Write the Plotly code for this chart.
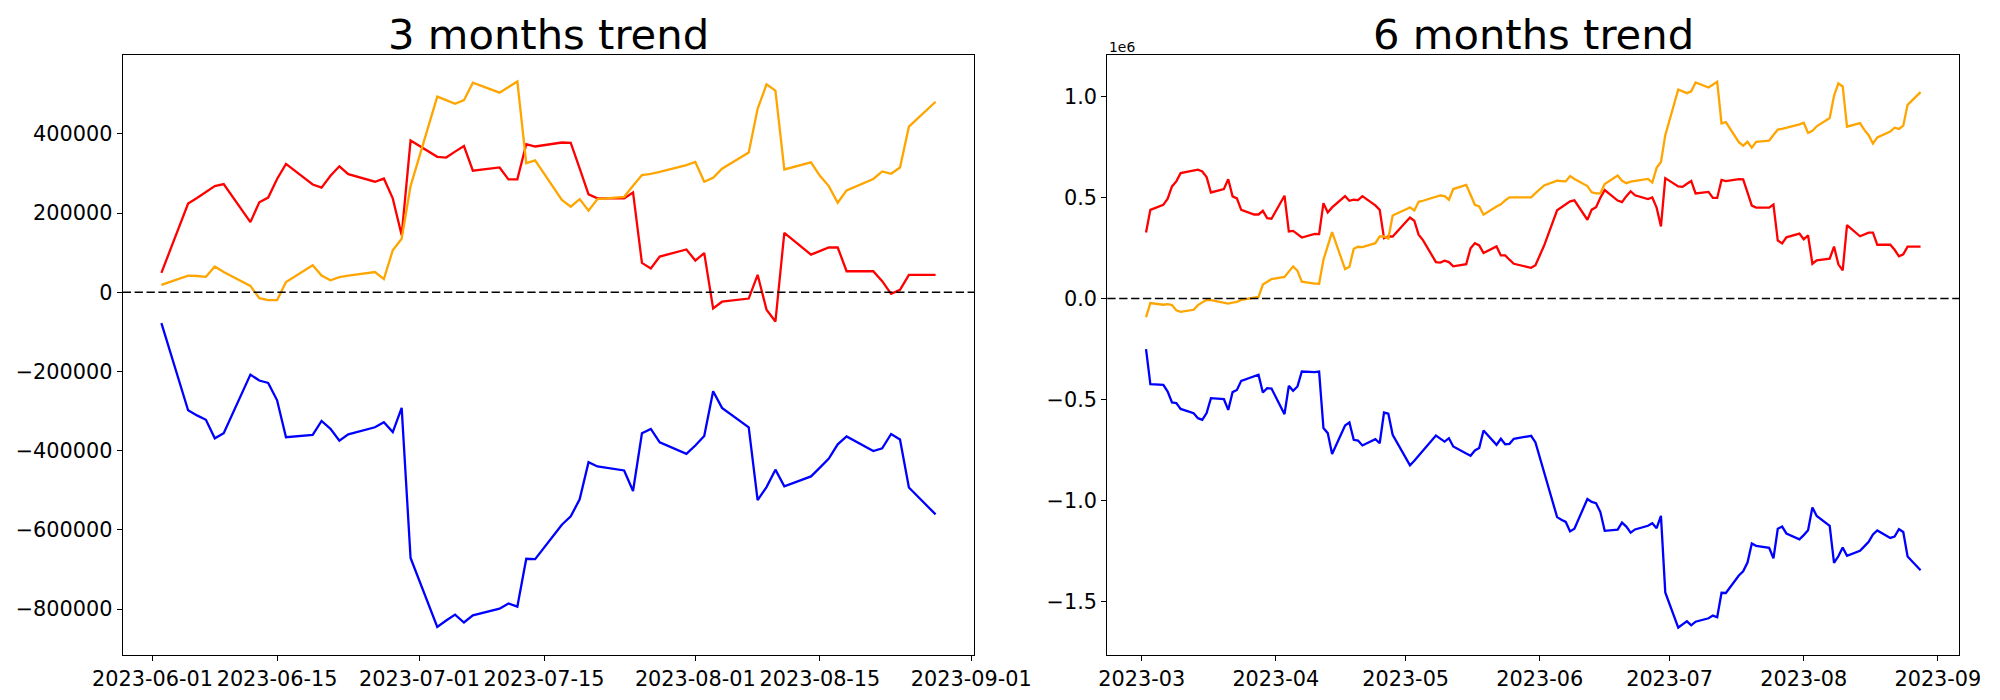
import plotly.graph_objects as go

# ---------------- data ----------------
dates_3m = [
    "2023-06-02",
    "2023-06-05", "2023-06-06", "2023-06-07", "2023-06-08", "2023-06-09",
    "2023-06-12", "2023-06-13", "2023-06-14", "2023-06-15", "2023-06-16",
    "2023-06-19", "2023-06-20", "2023-06-21", "2023-06-22", "2023-06-23",
    "2023-06-26", "2023-06-27", "2023-06-28", "2023-06-29", "2023-06-30",
    "2023-07-03", "2023-07-04", "2023-07-05", "2023-07-06", "2023-07-07",
    "2023-07-10", "2023-07-11", "2023-07-12", "2023-07-13", "2023-07-14",
    "2023-07-17", "2023-07-18", "2023-07-19", "2023-07-20", "2023-07-21",
    "2023-07-24", "2023-07-25", "2023-07-26", "2023-07-27", "2023-07-28",
    "2023-07-31", "2023-08-01", "2023-08-02", "2023-08-03", "2023-08-04",
    "2023-08-07", "2023-08-08", "2023-08-09", "2023-08-10", "2023-08-11",
    "2023-08-14", "2023-08-15", "2023-08-16", "2023-08-17", "2023-08-18",
    "2023-08-21", "2023-08-22", "2023-08-23", "2023-08-24", "2023-08-25",
    "2023-08-28",
]

red_3m = [49000, 224000, 238000, 253000, 268000, 273000, 177000, 227000, 239000, 286000,
          324000, 272000, 264000, 294000, 318000, 298000, 279000, 287000, 237000, 144000,
          383000, 342000, 340000, 355000, 369000, 307000, 315000, 285000, 285000, 374000,
          368000, 378000, 377000, 313000, 247000, 237000, 237000, 252000, 74000, 60000,
          90000, 108000, 80000, 99000, -41000, -24000, -16000, 44000, -44000, -74000,
          150000, 95000, 105000, 113000, 113000, 53000, 53000, 28000, -4000, 6000,
          44000, 44000]

orange_3m = [18600, 42000, 41000, 39000, 65000, 51000, 16000, -15000, -20000, -20000,
             26000, 68000, 42000, 30000, 38000, 42000, 51000, 33000, 106000, 135000,
             268000, 494000, 485000, 476000, 485000, 529000, 504000, 518000, 532000, 326000,
             333000, 233000, 216000, 235000, 206000, 235000, 241000, 269000, 296000, 299000,
             304000, 321000, 329000, 279000, 289000, 312000, 353000, 463000, 525000, 509000,
             310000, 328000, 294000, 268000, 226000, 257000, 286000, 305000, 299000, 315000,
             418000, 481000]

blue_3m = [-78000, -298000, -311000, -322000, -369000, -356000, -208000, -223000, -229000, -273000,
           -366000, -360000, -325000, -345000, -375000, -359000, -341000, -328000, -353000, -292000,
           -671000, -845000, -829000, -814000, -834000, -816000, -799000, -786000, -794000, -673000,
           -674000, -587000, -566000, -523000, -429000, -440000, -450000, -502000, -356000, -345000,
           -379000, -408000, -387000, -363000, -250000, -292000, -341000, -525000, -492000, -448000,
           -490000, -465000, -443000, -420000, -384000, -364000, -401000, -394000, -358000, -372000,
           -493000, -561000]

dates_6m_early = [
    "2023-03-02", "2023-03-03",
    "2023-03-06", "2023-03-07", "2023-03-08", "2023-03-09", "2023-03-10",
    "2023-03-13", "2023-03-14", "2023-03-15", "2023-03-16", "2023-03-17",
    "2023-03-20", "2023-03-21", "2023-03-22", "2023-03-23", "2023-03-24",
    "2023-03-27", "2023-03-28", "2023-03-29", "2023-03-30", "2023-03-31",
    "2023-04-03", "2023-04-04", "2023-04-05", "2023-04-06", "2023-04-07",
    "2023-04-10", "2023-04-11", "2023-04-12", "2023-04-13", "2023-04-14",
    "2023-04-17", "2023-04-18", "2023-04-19", "2023-04-20", "2023-04-21",
    "2023-04-24", "2023-04-25", "2023-04-26", "2023-04-27", "2023-04-28",
    "2023-05-01", "2023-05-02", "2023-05-03", "2023-05-04", "2023-05-05",
    "2023-05-08", "2023-05-09", "2023-05-10", "2023-05-11", "2023-05-12",
    "2023-05-15", "2023-05-16", "2023-05-17", "2023-05-18", "2023-05-19",
    "2023-05-22", "2023-05-23", "2023-05-24", "2023-05-25", "2023-05-26",
    "2023-05-29", "2023-05-30", "2023-05-31", "2023-06-01",
]
dates_6m = dates_6m_early + dates_3m

red_6m_early = [327000, 439000, 464000, 494000, 555000, 580000, 621000, 636000, 638000, 629000,
                601000, 525000, 542000, 591000, 506000, 496000, 439000, 416000, 416000, 434000,
                398000, 395000, 509000, 332000, 335000, 319000, 302000, 320000, 319000, 472000,
                426000, 451000, 507000, 484000, 489000, 487000, 507000, 461000, 439000, 299000,
                307000, 307000, 375000, 401000, 385000, 316000, 289000, 180000, 178000, 187000,
                180000, 159000, 170000, 249000, 274000, 263000, 225000, 258000, 213000, 213000,
                192000, 172000, 157000, 152000, 165000, 215000]
red_6m_late = [262000, 437000, 451000, 466000, 481000, 486000, 390000, 440000, 452000, 499000,
               537000, 485000, 477000, 507000, 531000, 511000, 492000, 500000, 450000, 357000,
               596000, 555000, 553000, 568000, 582000, 520000, 528000, 498000, 498000, 587000,
               581000, 591000, 590000, 526000, 460000, 450000, 450000, 465000, 287000, 273000,
               303000, 321000, 293000, 312000, 172000, 189000, 197000, 257000, 169000, 139000,
               363000, 308000, 318000, 326000, 326000, 266000, 266000, 241000, 209000, 219000,
               257000, 257000]
red_6m = red_6m_early + red_6m_late

orange_6m_early = [-92000, -23000, -31000, -28000, -33000, -59000, -66000, -56000, -33000, -20000,
                   -7000, -8000, -21000, -25000, -21000, -17000, -7000, 5000, 8000, 69000,
                   81000, 96000, 107000, 132000, 159000, 137000, 83000, 74000, 73000, 192000,
                   258000, 329000, 145000, 157000, 246000, 256000, 254000, 274000, 307000, 307000,
                   297000, 411000, 441000, 451000, 436000, 479000, 484000, 505000, 510000, 507000,
                   489000, 542000, 563000, 514000, 464000, 456000, 415000, 456000, 466000, 486000,
                   501000, 501000, 501000, 501000, 522000, 541000]
orange_6m_late = [560000, 583000, 582000, 580000, 606000, 592000, 557000, 526000, 521000, 521000,
                  567000, 609000, 583000, 571000, 579000, 583000, 592000, 574000, 647000, 676000,
                  809000, 1035000, 1026000, 1017000, 1026000, 1070000, 1045000, 1059000, 1073000, 867000,
                  874000, 774000, 757000, 776000, 747000, 776000, 782000, 810000, 837000, 840000,
                  845000, 862000, 870000, 820000, 830000, 853000, 894000, 1004000, 1066000, 1050000,
                  851000, 869000, 835000, 809000, 767000, 798000, 827000, 846000, 840000, 856000,
                  959000, 1022000]
orange_6m = orange_6m_early + orange_6m_late

blue_6m_early = [-251000, -424000, -428000, -461000, -515000, -518000, -547000, -568000, -593000, -601000,
                 -568000, -494000, -499000, -552000, -464000, -453000, -408000, -388000, -378000, -466000,
                 -444000, -446000, -573000, -433000, -457000, -436000, -362000, -365000, -362000, -642000,
                 -667000, -770000, -629000, -614000, -700000, -704000, -728000, -697000, -717000, -565000,
                 -571000, -675000, -788000, -827000, -804000, -780000, -755000, -679000, -694000, -709000,
                 -692000, -733000, -768000, -779000, -753000, -741000, -654000, -725000, -695000, -722000,
                 -720000, -695000, -684000, -680000, -713000, -785000]
blue_6m_late = [-863000, -1083000, -1096000, -1107000, -1154000, -1141000, -993000, -1008000, -1014000, -1058000,
                -1151000, -1145000, -1110000, -1130000, -1160000, -1144000, -1126000, -1113000, -1138000, -1077000,
                -1456000, -1630000, -1614000, -1599000, -1619000, -1601000, -1584000, -1571000, -1579000, -1458000,
                -1459000, -1372000, -1351000, -1308000, -1214000, -1225000, -1235000, -1287000, -1141000, -1130000,
                -1164000, -1193000, -1172000, -1148000, -1035000, -1077000, -1126000, -1310000, -1277000, -1233000,
                -1275000, -1250000, -1228000, -1205000, -1169000, -1149000, -1186000, -1179000, -1143000, -1157000,
                -1278000, -1346000]
blue_6m = blue_6m_early + blue_6m_late

titles = ["3 months trend", "6 months trend"]

x_ticks_3m = ["2023-06-01", "2023-06-15", "2023-07-01", "2023-07-15", "2023-08-01", "2023-08-15", "2023-09-01"]
x_ticks_6m = ["2023-03-01", "2023-04-01", "2023-05-01", "2023-06-01", "2023-07-01", "2023-08-01", "2023-09-01"]
x_ticktext_6m = ["2023-03", "2023-04", "2023-05", "2023-06", "2023-07", "2023-08", "2023-09"]

y_ticks_3m = [-800000, -600000, -400000, -200000, 0, 200000, 400000]
y_ticktext_3m = ["\u2212800000", "\u2212600000", "\u2212400000", "\u2212200000", "0", "200000", "400000"]
y_ticks_6m = [-1500000, -1000000, -500000, 0, 500000, 1000000]
y_ticktext_6m = ["\u22121.5", "\u22121.0", "\u22120.5", "0.0", "0.5", "1.0"]

# ---------------- figure ----------------
FONT = "DejaVu Sans"
W, H = 2000, 700
LW = 2.3
OFF = 8  # page body margin compensation

left_px = (122.7 - OFF, 974.3 - OFF)
right_px = (1107.3 - OFF, 1959.3 - OFF)
top_px, bot_px = 55.0 - OFF, 655.0 - OFF
ydom = [1 - bot_px / H, 1 - top_px / H]

fig = go.Figure()
for xs, ys, col, ax in [
    (dates_3m, red_3m, "red", "1"), (dates_3m, orange_3m, "orange", "1"), (dates_3m, blue_3m, "blue", "1"),
    (dates_6m, red_6m, "red", "2"), (dates_6m, orange_6m, "orange", "2"), (dates_6m, blue_6m, "blue", "2"),
]:
    fig.add_trace(go.Scatter(
        x=xs, y=ys, mode="lines", line=dict(color=col, width=LW),
        xaxis="x" if ax == "1" else "x2", yaxis="y" if ax == "1" else "y2",
        showlegend=False, hoverinfo="skip",
    ))

axis_common = dict(
    showline=True, mirror=True, linecolor="black", linewidth=1.1,
    ticks="outside", ticklen=5, tickwidth=1.1, tickcolor="black",
    showgrid=False, zeroline=False, tickangle=0, automargin=False,
    tickfont=dict(family=FONT, size=20.8, color="black"),
)

fig.update_layout(
    width=W, height=H,
    margin=dict(l=0, r=0, t=0, b=0),
    paper_bgcolor="white", plot_bgcolor="white",
    xaxis=dict(domain=[left_px[0] / W, left_px[1] / W], type="date",
               range=["2023-05-28 15:36", "2023-09-01 08:24"],
               tickvals=x_ticks_3m, ticktext=x_ticks_3m, anchor="y", **axis_common),
    yaxis=dict(domain=ydom, range=[-916000, 599000],
               tickvals=y_ticks_3m, ticktext=y_ticktext_3m, anchor="x", **axis_common),
    xaxis2=dict(domain=[right_px[0] / W, right_px[1] / W], type="date",
                range=["2023-02-21 01:12", "2023-09-05 22:48"],
                tickvals=x_ticks_6m, ticktext=x_ticktext_6m, anchor="y2", **axis_common),
    yaxis2=dict(domain=ydom, range=[-1766000, 1206000],
                tickvals=y_ticks_6m, ticktext=y_ticktext_6m, anchor="x2", **axis_common),
)

# dashed zero lines
for xr, yr in [("x domain", "y"), ("x2 domain", "y2")]:
    fig.add_shape(type="line", xref=xr, yref=yr, x0=0, x1=1, y0=0, y1=0,
                  line=dict(color="black", width=1.6, dash="8.3px,3.6px"))

# titles
for t, px in zip(titles, [left_px, right_px]):
    fig.add_annotation(text=t, xref="paper", yref="paper",
                       x=(px[0] + px[1]) / 2 / W, y=1 - 53 / H,
                       xanchor="center", yanchor="bottom", showarrow=False,
                       font=dict(family=FONT, size=41.7, color="black"))

# offset text
fig.add_annotation(text="1e6", xref="paper", yref="paper",
                   x=right_px[0] / W, y=1 - 49 / H, xanchor="left", yanchor="bottom",
                   showarrow=False, font=dict(family=FONT, size=13.9, color="black"))

fig.write_html("out.html")
